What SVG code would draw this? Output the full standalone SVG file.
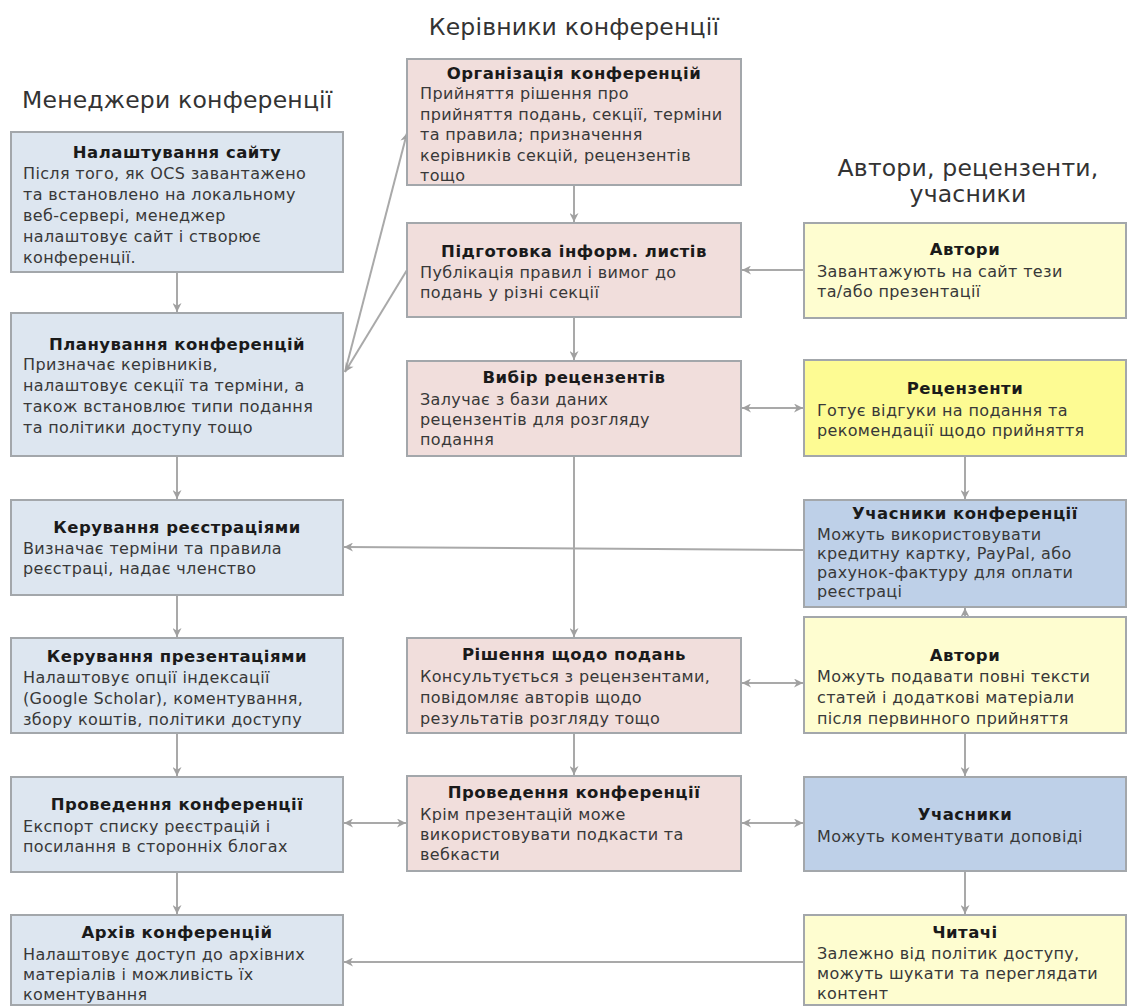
<svg xmlns="http://www.w3.org/2000/svg" width="1129" height="1008" viewBox="0 0 1129 1008">
<style>
.hdr{font-family:"DejaVu Sans","Liberation Sans",sans-serif;font-size:23.5px;fill:#333;letter-spacing:0.2px}
.t{font-family:"DejaVu Sans","Liberation Sans",sans-serif;font-size:16.5px;font-weight:bold;fill:#1a1a1a;text-anchor:middle;letter-spacing:0.5px}
.b{font-family:"DejaVu Sans","Liberation Sans",sans-serif;font-size:16px;fill:#383838;letter-spacing:0.35px}
.box{stroke:#a3a7ab;stroke-width:2}
.lb{fill:#dde6f0}
.pk{fill:#f1dedc}
.ly{fill:#fefdd0}
.by{fill:#fdfb93}
.db{fill:#bed0e8}
.c{fill:none;stroke:#a9a9a9;stroke-width:2}
</style>
<defs>
<marker id="ah" viewBox="0 0 10 10" refX="10" refY="5" markerWidth="10" markerHeight="9" markerUnits="userSpaceOnUse" orient="auto-start-reverse">
<path d="M0,0 L10,5 L0,10 L3,5 Z" fill="#a0a0a0"/>
</marker>
</defs>
<rect width="1129" height="1008" fill="#ffffff"/>

<text class="hdr" x="22" y="108">Менеджери конференції</text>
<text class="hdr" x="574" y="35" text-anchor="middle">Керівники конференції</text>
<text class="hdr" x="968" y="176" text-anchor="middle">Автори, рецензенти,</text>
<text class="hdr" x="968" y="202" text-anchor="middle">учасники</text>

<g id="connectors">
<path class="c" d="M177,272 V312" marker-end="url(#ah)"/>
<path class="c" d="M177,456 V499" marker-end="url(#ah)"/>
<path class="c" d="M177,595 V637" marker-end="url(#ah)"/>
<path class="c" d="M177,733 V776" marker-end="url(#ah)"/>
<path class="c" d="M177,872 V914" marker-end="url(#ah)"/>
<path class="c" d="M345,372 L407,133" marker-end="url(#ah)"/>
<path class="c" d="M407,270 L345,372" marker-end="url(#ah)"/>
<path class="c" d="M574,185 V222" marker-end="url(#ah)"/>
<path class="c" d="M574,317 V360" marker-end="url(#ah)"/>
<path class="c" d="M574,456 V637" marker-end="url(#ah)"/>
<path class="c" d="M574,733 V775" marker-end="url(#ah)"/>
<path class="c" d="M804,270 H742" marker-end="url(#ah)"/>
<path class="c" d="M742,408 H803" marker-start="url(#ah)" marker-end="url(#ah)"/>
<path class="c" d="M965,456 V499" marker-end="url(#ah)"/>
<path class="c" d="M804,550 L344,547" marker-end="url(#ah)"/>
<path class="c" d="M965,617 V608" marker-end="url(#ah)"/>
<path class="c" d="M742,683 H803" marker-start="url(#ah)" marker-end="url(#ah)"/>
<path class="c" d="M965,733 V776" marker-end="url(#ah)"/>
<path class="c" d="M344,823 H406" marker-start="url(#ah)" marker-end="url(#ah)"/>
<path class="c" d="M742,823 H803" marker-start="url(#ah)" marker-end="url(#ah)"/>
<path class="c" d="M965,871 V914" marker-end="url(#ah)"/>
<path class="c" d="M804,962 H344" marker-end="url(#ah)"/>
</g>

<g id="node-site-setup">
<rect class="box lb" x="11" y="132" width="332" height="140"/>
<text class="t" x="177" y="158">Налаштування сайту</text>
<text class="b" x="23" y="179">Після того, як OCS завантажено</text>
<text class="b" x="23" y="200">та встановлено на локальному</text>
<text class="b" x="23" y="221">веб-сервері, менеджер</text>
<text class="b" x="23" y="242">налаштовує сайт і створює</text>
<text class="b" x="23" y="263">конференції.</text>
</g>

<g id="node-planning">
<rect class="box lb" x="11" y="313" width="332" height="143"/>
<text class="t" x="177" y="350">Планування конференцій</text>
<text class="b" x="23" y="370">Призначає керівників,</text>
<text class="b" x="23" y="391">налаштовує секції та терміни,  а</text>
<text class="b" x="23" y="412">також встановлює типи подання</text>
<text class="b" x="23" y="433">та політики  доступу тощо</text>
</g>

<g id="node-registration">
<rect class="box lb" x="11" y="500" width="332" height="95"/>
<text class="t" x="177" y="533">Керування реєстраціями</text>
<text class="b" x="23" y="554">Визначає терміни та правила</text>
<text class="b" x="23" y="574">реєстраці, надає членство</text>
</g>

<g id="node-presentations">
<rect class="box lb" x="11" y="638" width="332" height="95"/>
<text class="t" x="177" y="662">Керування презентаціями</text>
<text class="b" x="23" y="683">Налаштовує опції індексації</text>
<text class="b" x="23" y="704">(Google Scholar), коментування,</text>
<text class="b" x="23" y="725">збору коштів, політики  доступу</text>
</g>

<g id="node-conduct-left">
<rect class="box lb" x="11" y="777" width="332" height="95"/>
<text class="t" x="177" y="810">Проведення конференції</text>
<text class="b" x="23" y="832">Експорт списку реєстрацій і</text>
<text class="b" x="23" y="852">посилання в сторонніх блогах</text>
</g>

<g id="node-archive">
<rect class="box lb" x="11" y="915" width="332" height="90"/>
<text class="t" x="177" y="938">Архів конференцій</text>
<text class="b" x="23" y="960">Налаштовує доступ до архівних</text>
<text class="b" x="23" y="980">матеріалів і можливість їх</text>
<text class="b" x="23" y="1000">коментування</text>
</g>

<g id="node-organization">
<rect class="box pk" x="407" y="59" width="334" height="126"/>
<text class="t" x="574" y="79">Організація конференцій</text>
<text class="b" x="420" y="99">Прийняття рішення про</text>
<text class="b" x="420" y="120">прийняття подань, секції, терміни</text>
<text class="b" x="420" y="140">та правила; призначення</text>
<text class="b" x="420" y="161">керівників секцій, рецензентів</text>
<text class="b" x="420" y="181">тощо</text>
</g>

<g id="node-info-letters">
<rect class="box pk" x="407" y="223" width="334" height="94"/>
<text class="t" x="574" y="257">Підготовка інформ. листів</text>
<text class="b" x="420" y="278">Публікація правил і вимог до</text>
<text class="b" x="420" y="298">подань у різні  секції</text>
</g>

<g id="node-reviewer-selection">
<rect class="box pk" x="407" y="361" width="334" height="95"/>
<text class="t" x="574" y="383">Вибір рецензентів</text>
<text class="b" x="420" y="405">Залучає з бази даних</text>
<text class="b" x="420" y="425">рецензентів для розгляду</text>
<text class="b" x="420" y="445">подання</text>
</g>

<g id="node-decisions">
<rect class="box pk" x="407" y="638" width="334" height="95"/>
<text class="t" x="574" y="660">Рішення щодо подань</text>
<text class="b" x="420" y="682">Консультується з рецензентами,</text>
<text class="b" x="420" y="703">повідомляє авторів щодо</text>
<text class="b" x="420" y="724">результатів розгляду тощо</text>
</g>

<g id="node-conduct-mid">
<rect class="box pk" x="407" y="776" width="334" height="95"/>
<text class="t" x="574" y="798">Проведення конференції</text>
<text class="b" x="420" y="820">Крім презентацій може</text>
<text class="b" x="420" y="840">використовувати подкасти та</text>
<text class="b" x="420" y="860">вебкасти</text>
</g>

<g id="node-authors-1">
<rect class="box ly" x="804" y="223" width="322" height="95"/>
<text class="t" x="965" y="255">Автори</text>
<text class="b" x="817" y="277">Завантажують на сайт тези</text>
<text class="b" x="817" y="297">та/або презентації</text>
</g>

<g id="node-reviewers">
<rect class="box by" x="804" y="360" width="322" height="96"/>
<text class="t" x="965" y="394">Рецензенти</text>
<text class="b" x="817" y="416">Готує відгуки на подання та</text>
<text class="b" x="817" y="436">рекомендації щодо прийняття</text>
</g>

<g id="node-conf-participants">
<rect class="box db" x="804" y="500" width="322" height="107"/>
<text class="t" x="965" y="519">Учасники конференції</text>
<text class="b" x="817" y="540">Можуть використовувати</text>
<text class="b" x="817" y="559">кредитну картку, PayPal, або</text>
<text class="b" x="817" y="578">рахунок-фактуру для оплати</text>
<text class="b" x="817" y="597">реєстраці</text>
</g>

<g id="node-authors-2">
<rect class="box ly" x="804" y="617" width="322" height="116"/>
<text class="t" x="965" y="661">Автори</text>
<text class="b" x="817" y="682">Можуть подавати повні тексти</text>
<text class="b" x="817" y="703">статей і додаткові матеріали</text>
<text class="b" x="817" y="724">після первинного прийняття</text>
</g>

<g id="node-participants">
<rect class="box db" x="804" y="777" width="322" height="94"/>
<text class="t" x="965" y="820">Учасники</text>
<text class="b" x="817" y="842">Можуть коментувати доповіді</text>
</g>

<g id="node-readers">
<rect class="box ly" x="804" y="915" width="322" height="90"/>
<text class="t" x="965" y="938">Читачі</text>
<text class="b" x="817" y="959">Залежно від політик доступу,</text>
<text class="b" x="817" y="979">можуть шукати та переглядати</text>
<text class="b" x="817" y="999">контент</text>
</g>
</svg>
